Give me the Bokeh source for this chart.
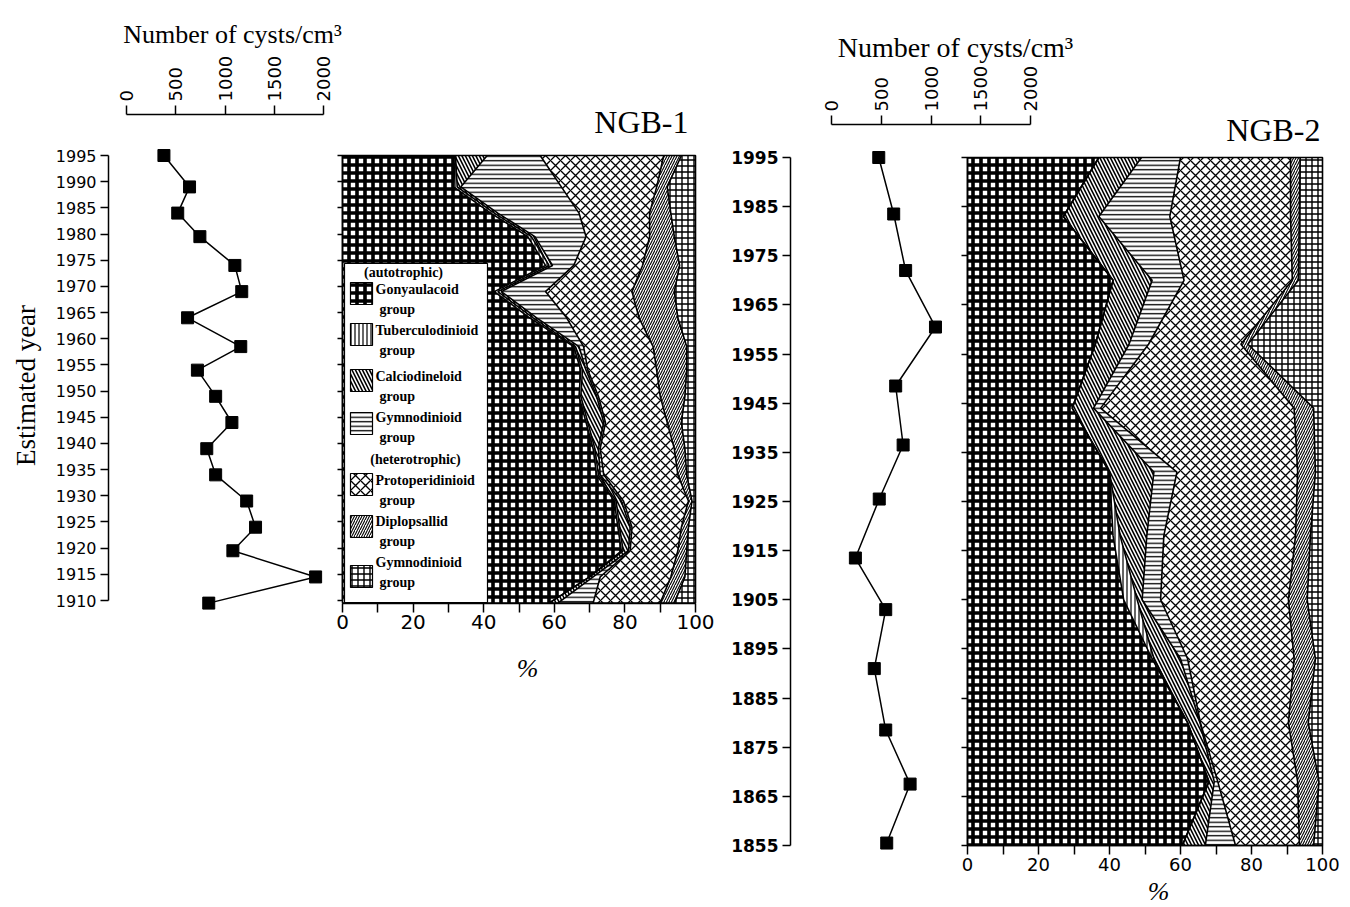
import numpy as np
from bokeh.plotting import figure
from bokeh.models import Range1d, LinearAxis, FixedTicker, ColumnDataSource
from bokeh.embed import file_html
from bokeh.resources import INLINE
from bokeh.core.properties import value

# ---------------- data ----------------
group_names = ["Gonyaulacoid", "Tuberculodinioid", "Calciodineloid", "Gymnodinioid",
               "Protoperidinioid", "Diplopsallid", "Gymnodinioid"]

# NGB-1 core (cysts per cm3 and composition in %)
ngb1_years = [1995, 1989, 1984, 1979.5, 1974, 1969, 1964, 1958.5, 1954, 1949, 1944, 1939,
              1934, 1929, 1924, 1919.5, 1914.5, 1909.5]
ngb1_cysts = [380, 640, 520, 745, 1100, 1170, 620, 1160, 720, 905, 1070, 815, 905, 1220,
              1310, 1080, 1920, 835]
ngb1_gony = [32, 31.5, 42, 52.5, 57.5, 43, 53, 65.5, 67.5, 67, 69, 71, 72, 77, 78, 79, 70, 58.5]
ngb1_tuber = [0, 1, 1, 1, 1, 1, 1, 0.5, 0.5, 0.5, 0.5, 0.5, 0.5, 0.5, 0.5, 0.5, 0, 0]
ngb1_calc = [9, 1, 1, 1, 1, 1, 1, 1, 1, 4.5, 4.5, 1, 0.5, 1.5, 3, 1.5, 1, 2.5]
ngb1_gymA = [15, 28.5, 23, 14.5, 6, 12.5, 8.5, 1.3, 0.5, 0.5, 0.5, 0.5, 1, 0.6, 0.5, 0.5, 2, 10]
ngb1_proto = [35, 27, 20, 18, 19.5, 24.5, 20.5, 19.7, 19.5, 17.5, 17.5, 21, 21, 18.4, 14, 13.5, 20, 19]
ngb1_diplo = [5, 3, 6, 7, 10.5, 12, 11, 9.5, 8.5, 7, 4, 3, 2.5, 1, 2, 2.5, 4, 4]
ngb1_gymH = [4, 8, 7, 6, 4.5, 6, 5, 2.5, 2.5, 3, 4, 3, 2.5, 1, 2, 2.5, 3, 6]

# NGB-2 core
ngb2_cyst_years = [1995, 1983.5, 1972, 1960.5, 1948.5, 1936.5, 1925.5, 1913.5, 1903, 1891,
                   1878.5, 1867.5, 1855.5]
ngb2_cysts = [475, 625, 745, 1045, 645, 720, 480, 240, 545, 430, 545, 790, 555]
ngb2_years = [1995, 1983, 1970, 1957, 1944, 1931, 1918, 1905, 1893, 1880, 1868, 1855]
ngb2_gony = [37, 27, 41, 36, 29.5, 40, 41, 44, 52, 62, 68, 60.5]
ngb2_tuber = [0, 0, 0, 0, 0, 0, 2, 3.8, 0.5, 0, 0, 0]
ngb2_calc = [12, 10, 11, 9.5, 6, 12.5, 7.5, 1.4, 7.5, 3.5, 1.5, 6.5]
ngb2_gymA = [11, 20, 9, 5.5, 2, 6.5, 4.8, 5.2, 2, 0.1, 1, 8.5]
ngb2_proto = [31, 34, 30.5, 26, 54.5, 34, 37.1, 36, 30, 24.8, 22.5, 18]
ngb2_diplo = [2.7, 2.5, 1.7, 2, 5.5, 5, 4.2, 5.3, 6, 5.6, 6, 4]
ngb2_gymH = [6.3, 6.5, 6.8, 21, 2.5, 2, 3.4, 4.3, 2, 4, 1, 2.5]

year_ticks_1 = list(range(1910, 1996, 5))
year_ticks_2 = list(range(1855, 1996, 10))
cyst_ticks = [0, 500, 1000, 1500, 2000]
pct_ticks = [0, 20, 40, 60, 80, 100]
pct_minor = [10, 30, 50, 70, 90]

# ---------------- styles ----------------
STYLES = [
    dict(fill_color="white", hatch_pattern="cross", hatch_color="black", hatch_scale=8, hatch_weight=3.6),
    dict(fill_color="white", hatch_pattern="vertical_line", hatch_color="black", hatch_scale=4, hatch_weight=1.2),
    dict(fill_color="white", hatch_pattern="left_diagonal_line", hatch_color="black", hatch_scale=7, hatch_weight=1.6),
    dict(fill_color="white", hatch_pattern="horizontal_line", hatch_color="black", hatch_scale=4.5, hatch_weight=1.3),
    dict(fill_color="white", hatch_pattern="diagonal_cross", hatch_color="black", hatch_scale=10, hatch_weight=1.3),
    dict(fill_color="white", hatch_pattern="right_diagonal_line", hatch_color="black", hatch_scale=5, hatch_weight=1.1),
    dict(fill_color="white", hatch_pattern="cross", hatch_color="black", hatch_scale=6, hatch_weight=1.4),
]
SERIF = "Liberation Serif"
SANS = "DejaVu Sans"

# ---------------- canvas & coordinate systems (pixel layout of the original) ----------------
W, H = 1350, 905


def lin_range(v0, px0, v1, px1, size, vertical=False):
    k = (v1 - v0) / (px1 - px0)
    at = lambda px: v0 + (px - px0) * k
    return Range1d(at(size), at(0)) if vertical else Range1d(at(0), at(size))


p = figure(width=W, height=H, x_range=Range1d(0, W), y_range=Range1d(H, 0),
           x_axis_type=None, y_axis_type=None, title=None, toolbar_location=None,
           output_backend="svg", min_border=0, min_border_left=0, min_border_right=0,
           min_border_top=0, min_border_bottom=0, outline_line_color=None,
           background_fill_color="white", border_fill_color="white")

p.extra_x_ranges = {
    "cyst1": lin_range(0, 126, 2000, 323, W),
    "pct1": lin_range(0, 342, 100, 695, W),
    "cyst2": lin_range(0, 831, 2000, 1030, W),
    "pct2": lin_range(0, 967, 100, 1322, W),
}
p.extra_y_ranges = {
    "yr1": lin_range(1995, 155, 1910, 600, H, vertical=True),
    "yr2": lin_range(1995, 157, 1855, 845, H, vertical=True),
}


def make_axis(side, ticks, size, fixed, bounds, xr="default", yr="default", bold=False,
              tick_out=8, minor=None, labels=True, vertical=False, standoff=4):
    ax = LinearAxis(x_range_name=xr, y_range_name=yr, fixed_location=fixed, bounds=bounds)
    ax.ticker = FixedTicker(ticks=ticks, minor_ticks=minor or [])
    ax.axis_line_color = "black"
    ax.axis_line_width = 1.5
    ax.major_tick_line_color = "black"
    ax.major_tick_line_width = 1.5
    ax.major_tick_in = 0
    ax.major_tick_out = tick_out
    if minor:
        ax.minor_tick_line_color = "black"
        ax.minor_tick_line_width = 1.5
        ax.minor_tick_in = 0
        ax.minor_tick_out = tick_out
    else:
        ax.minor_tick_line_color = None
    ax.major_label_text_font = SANS
    ax.major_label_text_font_size = size
    ax.major_label_text_color = "black"
    ax.major_label_standoff = standoff
    if bold:
        ax.major_label_text_font_style = "bold"
    if not labels:
        ax.major_label_overrides = {t: "" for t in ticks}
        ax.major_label_text_font_size = "0px"
    if vertical:
        ax.major_label_orientation = "vertical"
    p.add_layout(ax, side)
    return ax


def add_area(years, comps, xr, yr):
    cum = np.zeros(len(years))
    data = {"year": list(years), "c0": list(cum)}
    for i, comp in enumerate(comps):
        cum = cum + np.array(comp, float)
        data[f"c{i+1}"] = list(cum)
    src = ColumnDataSource(data)
    for i, st in enumerate(STYLES):
        p.harea(x1=f"c{i}", x2=f"c{i+1}", y="year", source=src, x_range_name=xr,
                y_range_name=yr, **st)
    for i in range(1, len(comps)):
        p.line(x=f"c{i}", y="year", source=src, line_color="black", line_width=1.6,
               x_range_name=xr, y_range_name=yr)
    p.quad(left=0, right=100, top=max(years), bottom=min(years), fill_color=None,
           line_color="black", line_width=1.6, x_range_name=xr, y_range_name=yr)


# ---------------- composition panels ----------------
add_area(ngb1_years, [ngb1_gony, ngb1_tuber, ngb1_calc, ngb1_gymA, ngb1_proto, ngb1_diplo,
                      ngb1_gymH], "pct1", "yr1")
add_area(ngb2_years, [ngb2_gony, ngb2_tuber, ngb2_calc, ngb2_gymA, ngb2_proto, ngb2_diplo,
                      ngb2_gymH], "pct2", "yr2")

# legend inside NGB-1 panel (pixel layout)
p.quad(left=344, right=487, top=263, bottom=602, fill_color="white", line_color="black",
       line_width=1.2)
sw_y = [293, 334, 380, 423, 484, 526, 576]
name_y = [289, 330, 376, 417, 480, 521, 562]
for i, st in enumerate(STYLES):
    p.rect(x=361, y=sw_y[i], width=22, height=22, line_color="black", line_width=1.2, **st)
lg_font = dict(text_font=value(SERIF), text_font_size="14px", text_font_style="bold",
               text_color="black", text_baseline="middle")
p.text(x=[375] * 7, y=name_y, text=group_names, **lg_font)
p.text(x=[379] * 7, y=[v + 20 for v in name_y], text=["group"] * 7, **lg_font)
p.text(x=[403, 415], y=[272, 459], text=["(autotrophic)", "(heterotrophic)"],
       text_align="center", **lg_font)

# ---------------- cyst profiles ----------------
p.line(ngb1_cysts, ngb1_years, line_color="black", line_width=1.5, x_range_name="cyst1",
       y_range_name="yr1")
p.scatter(ngb1_cysts, ngb1_years, marker="square", size=12, fill_color="black",
          line_color="black", x_range_name="cyst1", y_range_name="yr1")
p.line(ngb2_cysts, ngb2_cyst_years, line_color="black", line_width=1.5, x_range_name="cyst2",
       y_range_name="yr2")
p.scatter(ngb2_cysts, ngb2_cyst_years, marker="square", size=12, fill_color="black",
          line_color="black", x_range_name="cyst2", y_range_name="yr2")

# ---------------- axes ----------------
make_axis("above", cyst_ticks, "18px", 114, (0, 2000), xr="cyst1", tick_out=9, vertical=True)
make_axis("left", year_ticks_1, "16px", 108, (1910, 1995), yr="yr1", tick_out=8)
make_axis("left", year_ticks_1, "10px", 342, (1910, 1995), yr="yr1", tick_out=5, labels=False)
make_axis("below", pct_ticks, "20px", 1909.5, (0, 100), xr="pct1", yr="yr1", tick_out=9,
          minor=pct_minor, standoff=3)

make_axis("above", cyst_ticks, "18px", 124, (0, 2000), xr="cyst2", tick_out=9, vertical=True)
make_axis("left", year_ticks_2, "17px", 790, (1855, 1995), yr="yr2", bold=True, tick_out=8)
make_axis("left", year_ticks_2, "10px", 967, (1855, 1995), yr="yr2", tick_out=6, labels=False)
make_axis("below", pct_ticks, "18px", 1855, (0, 100), xr="pct2", yr="yr2", tick_out=9,
          minor=pct_minor, standoff=3)

# ---------------- titles ----------------
serif = dict(text_font=value(SERIF), text_color="black")
p.text(x=[232], y=[34], text=["Number of cysts/cm³"], text_align="center",
       text_baseline="alphabetic", text_font_size="26px", **serif)
p.text(x=[955], y=[47], text=["Number of cysts/cm³"], text_align="center",
       text_baseline="alphabetic", text_font_size="28px", **serif)
p.text(x=[688], y=[121], text=["NGB-1"], text_align="right", text_baseline="alphabetic",
       text_font_size="32px", **serif)
p.text(x=[1320], y=[129], text=["NGB-2"], text_align="right", text_baseline="alphabetic",
       text_font_size="32px", **serif)
p.text(x=[25], y=[385], text=["Estimated year"], angle=np.pi / 2, text_align="center",
       text_baseline="middle", text_font_size="27px", **serif)
p.text(x=[527, 1158], y=[668, 891], text=["%", "%"], text_align="center",
       text_baseline="middle", text_font_size="26px", text_font_style="italic", **serif)

open("out.html", "w").write(file_html(p, INLINE))
